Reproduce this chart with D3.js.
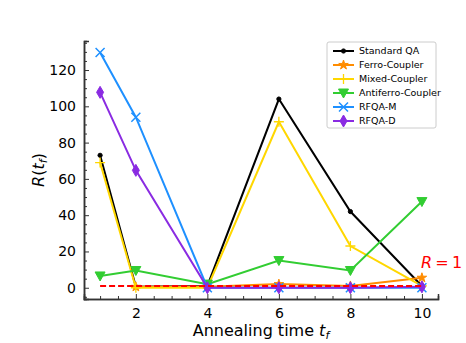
<!DOCTYPE html>
<html>
<head>
<meta charset="utf-8">
<script src="https://cdn.jsdelivr.net/npm/d3@7"></script>
<style>
  body { margin: 0; background: #fff; }
  text { font-family: "DejaVu Sans", sans-serif; }
</style>
</head>
<body>
<div id="chart"></div>
<script>
// Data
const times = [1, 2, 4, 6, 8, 10];
const standardQA = [73, 0.5, 1, 104, 42, 1];
const ferroCoupler = [null, 0.5, 0.5, 2, 1, 5.5];
const mixedCoupler = [69, 0, 0, 91.5, 23, 1];
const antiferroCoupler = [6.5, 9.5, 2, 15, 9.5, 47.5];
const rfqaM = [129.7, 94, 0, 0, 0, 0];
const rfqaD = [107.7, 64.7, 0, 0, 0, 0.5];
const seriesNames = ["Standard QA", "Ferro-Coupler", "Mixed-Coupler", "Antiferro-Coupler", "RFQA-M", "RFQA-D"];
const xTicks = [2, 4, 6, 8, 10];
const yTicks = [0, 20, 40, 60, 80, 100, 120];
const refLevel = 1;

const series = [
  {name: seriesNames[0], values: standardQA, color: "#000000", marker: "dot"},
  {name: seriesNames[1], values: ferroCoupler, color: "#ff8c00", marker: "star"},
  {name: seriesNames[2], values: mixedCoupler, color: "#ffd700", marker: "plus"},
  {name: seriesNames[3], values: antiferroCoupler, color: "#32cd32", marker: "tri"},
  {name: seriesNames[4], values: rfqaM, color: "#1e90ff", marker: "x"},
  {name: seriesNames[5], values: rfqaD, color: "#8a2be2", marker: "diamond"}
];

const width = 466, height = 343;
const margin = {left: 84, right: 28, top: 41, bottom: 44};

const svg = d3.select("#chart").append("svg")
  .attr("width", width)
  .attr("height", height);

const x = d3.scaleLinear().domain([0.55, 10.45]).range([margin.left, width - margin.right]);
const y = d3.scaleLinear().domain([-6.2, 136]).range([height - margin.bottom, margin.top]);

// Axes: ticks pointing inward
const axisColor = "#333";
const xMinor = d3.range(1, 10.01, 0.5).filter(v => !xTicks.includes(v));
const yMinor = d3.range(-5, 136, 5).filter(v => !yTicks.includes(v));

const gx = svg.append("g").attr("transform", `translate(0,${height - margin.bottom})`);
gx.call(d3.axisBottom(x).tickValues(xMinor).tickSize(-3).tickFormat(""));
gx.append("g").call(d3.axisBottom(x).tickValues(xTicks).tickSize(-5).tickPadding(9).tickFormat(d3.format("d")));

const gy = svg.append("g").attr("transform", `translate(${margin.left},0)`);
gy.call(d3.axisLeft(y).tickValues(yMinor).tickSize(-3).tickFormat(""));
gy.append("g").call(d3.axisLeft(y).tickValues(yTicks).tickSize(-5).tickPadding(8).tickFormat(d3.format("d")));

svg.selectAll(".domain").attr("stroke", axisColor).attr("stroke-width", 1.5);
svg.selectAll(".tick line").attr("stroke", axisColor).attr("stroke-width", 1);
svg.selectAll(".tick text")
  .attr("font-size", 14)
  .attr("fill", "#000")
  .style("font-family", "DejaVu Sans, sans-serif");
// drop duplicated domain paths of the nested major axes
gx.select("g").select(".domain").remove();
gy.select("g").select(".domain").remove();

// Marker shapes
function markerPath(type) {
  switch (type) {
    case "dot": return d3.symbol(d3.symbolCircle, 14)();
    case "star": return d3.symbol(d3.symbolStar, 28)();
    case "tri": return "M-5,-4L5,-4L0,5Z";
    case "diamond": return "M0,-6L3.5,0L0,6L-3.5,0Z";
    default: return null;
  }
}

function drawMarker(g, type, color, cx, cy) {
  if (type === "plus") {
    g.append("path")
      .attr("d", `M${cx - 5},${cy}H${cx + 5}M${cx},${cy - 5}V${cy + 5}`)
      .attr("stroke", color).attr("stroke-width", 1.3).attr("fill", "none");
  } else if (type === "x") {
    g.append("path")
      .attr("d", `M${cx - 4.5},${cy - 4.5}L${cx + 4.5},${cy + 4.5}M${cx - 4.5},${cy + 4.5}L${cx + 4.5},${cy - 4.5}`)
      .attr("stroke", color).attr("stroke-width", 1.5).attr("fill", "none");
  } else {
    g.append("path")
      .attr("d", markerPath(type))
      .attr("transform", `translate(${cx},${cy})`)
      .attr("fill", color).attr("stroke", color).attr("stroke-width", 1);
  }
}

const line = d3.line().defined(d => d[1] != null).x(d => x(d[0])).y(d => y(d[1]));
const plot = svg.append("g");

series.forEach(s => {
  const pts = times.map((t, i) => [t, s.values[i]]);
  const g = plot.append("g");
  g.append("path")
    .attr("d", line(pts))
    .attr("fill", "none")
    .attr("stroke", s.color)
    .attr("stroke-width", 2);
  pts.filter(p => p[1] != null).forEach(p => drawMarker(g, s.marker, s.color, x(p[0]), y(p[1])));
});

// R = 1 reference line
svg.append("line")
  .attr("x1", x(times[0])).attr("x2", x(times[times.length - 1]))
  .attr("y1", y(refLevel)).attr("y2", y(refLevel))
  .attr("stroke", "red").attr("stroke-width", 2)
  .attr("stroke-dasharray", "6,3");

const rLabel = svg.append("text")
  .attr("x", 421).attr("y", 268)
  .attr("fill", "red").attr("font-size", 16);
rLabel.append("tspan").attr("font-style", "italic").text("R");
rLabel.append("tspan").text("\u2009=\u20091");

// Axis labels
svg.append("text")
  .attr("x", (margin.left + width - margin.right) / 2).attr("y", 336)
  .attr("text-anchor", "middle").attr("font-size", 16)
  .call(t => {
    t.append("tspan").text("Annealing time ");
    t.append("tspan").attr("font-style", "italic").text("t");
    t.append("tspan").attr("font-style", "italic").attr("font-size", 11).attr("dy", 3).text("f");
  });

svg.append("text")
  .attr("transform", `translate(44,${(margin.top + height - margin.bottom) / 2}) rotate(-90)`)
  .attr("text-anchor", "middle").attr("font-size", 16)
  .call(t => {
    t.append("tspan").attr("font-style", "italic").text("R");
    t.append("tspan").text("(");
    t.append("tspan").attr("font-style", "italic").text("t");
    t.append("tspan").attr("font-style", "italic").attr("font-size", 11).attr("dy", 3).text("f");
    t.append("tspan").attr("dy", -3).text(")");
  });

// Legend
const legend = svg.append("g").attr("transform", "translate(327,42)");
legend.append("rect")
  .attr("width", 109).attr("height", 86).attr("rx", 2)
  .attr("fill", "#fff").attr("stroke", "#ccc").attr("stroke-width", 1);
series.forEach((s, i) => {
  const ly = 9 + i * 14;
  const g = legend.append("g");
  g.append("line")
    .attr("x1", 6).attr("x2", 27).attr("y1", ly).attr("y2", ly)
    .attr("stroke", s.color).attr("stroke-width", 2);
  drawMarker(g, s.marker, s.color, 16.5, ly);
  g.append("text")
    .attr("x", 32).attr("y", ly).attr("dy", "0.35em")
    .attr("font-size", 9.5).attr("fill", "#000")
    .text(s.name);
});
</script>
</body>
</html>
